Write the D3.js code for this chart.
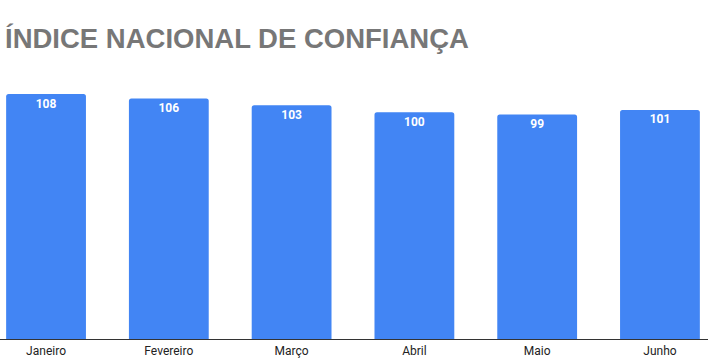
<!DOCTYPE html>
<html><head><meta charset="utf-8">
<script src="https://cdn.jsdelivr.net/npm/d3@7"></script>
<style>body{margin:0;background:#fff}svg{display:block}</style>
</head><body>
<svg id="c" width="710" height="364"></svg>
<script>
const categories = ["Janeiro","Fevereiro","Março","Abril","Maio","Junho"];
const values = [108,106,103,100,99,101];
const title = "ÍNDICE NACIONAL DE CONFIANÇA";

const svg = d3.select("#c");
const base = 339;

const x = d3.scaleBand().domain(categories).range([0,706]).paddingInner(0.35).paddingOuter(0.05);
const y = d3.scaleLinear().domain([0,108]).range([base,94]);

svg.append("text").attr("x",5).attr("y",48)
  .attr("font-family","Liberation Sans, Arial, sans-serif").attr("font-weight","bold")
  .attr("font-size",27.5).attr("fill","#777777").text(title);

const r = 2.5;
svg.selectAll("path.bar").data(values).join("path").attr("class","bar")
  .attr("fill","#4285F4")
  .attr("d",(d,i)=>{
    const x0 = x(categories[i]), w = x.bandwidth(), t = y(d);
    return `M${x0},${base}V${t+r}Q${x0},${t} ${x0+r},${t}H${x0+w-r}Q${x0+w},${t} ${x0+w},${t+r}V${base}Z`;
  });

svg.selectAll("text.lab").data(values).join("text").attr("class","lab")
  .attr("x",(d,i)=>x(categories[i])+x.bandwidth()/2).attr("y",d=>y(d)+13.5)
  .attr("text-anchor","middle").attr("font-family","Roboto, sans-serif").attr("font-weight","bold")
  .attr("font-size",12).attr("fill","#ffffff").text(d=>d);

const ax = svg.append("g").attr("transform",`translate(0,${base})`)
  .call(d3.axisBottom(x).tickSize(0).tickPadding(6));
ax.select(".domain").attr("d","M0,0.5H708").attr("stroke","#333");
ax.selectAll("text").attr("font-family","Roboto, sans-serif").attr("font-size",12).attr("fill","#222")
  .attr("dy",null).attr("y",16);
</script>
</body></html>
